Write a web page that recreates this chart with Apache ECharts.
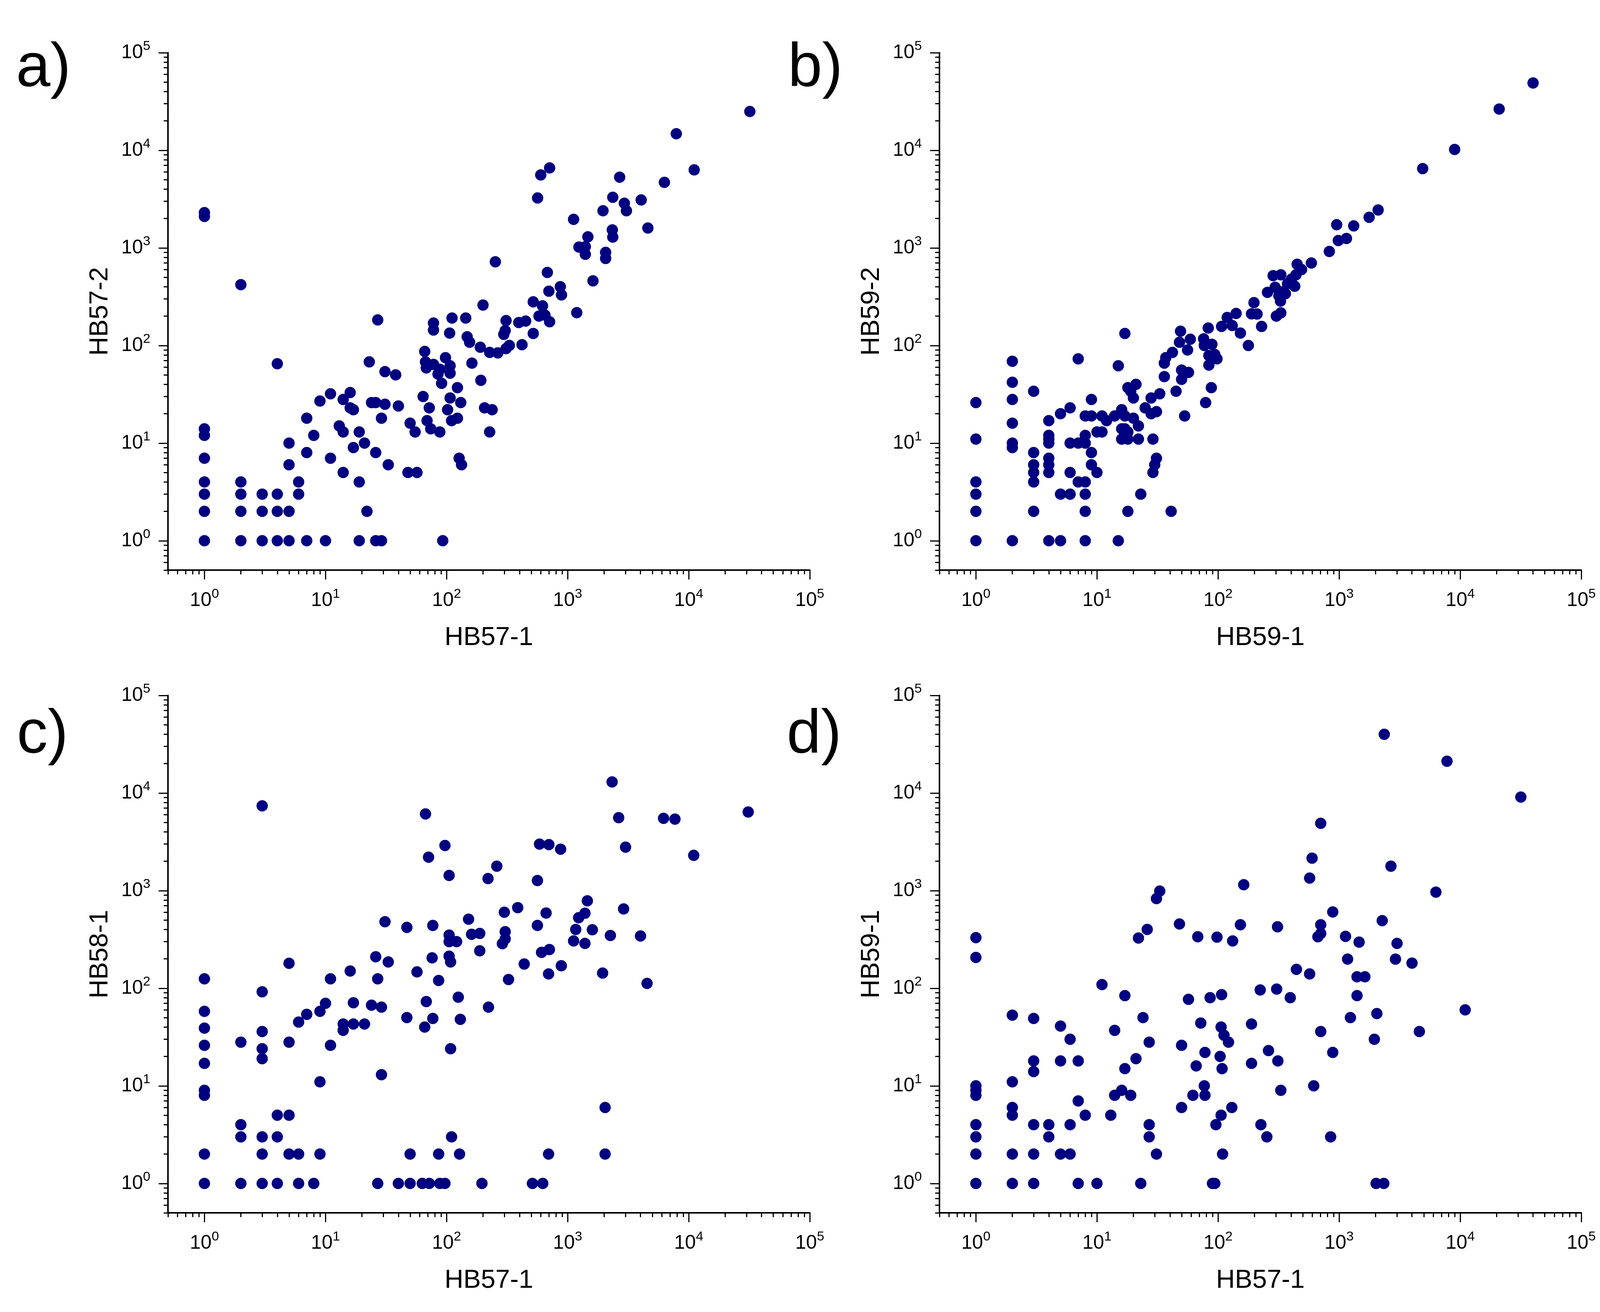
<!DOCTYPE html>
<html>
<head>
<meta charset="utf-8">
<script src="https://cdn.jsdelivr.net/npm/echarts@6/dist/echarts.min.js"></script>
<style>
  html, body { margin: 0; padding: 0; background: #fff; }
  #chart { width: 4131px; height: 3360px; }
</style>
</head>
<body>
<div id="chart"></div>
<script>
// axis decades (tick labels 10^0 .. 10^5)
const majorTicks = [1, 10, 100, 1000, 10000, 100000];

const panelLetters = ['a)', 'b)', 'c)', 'd)'];
const xNames = ['HB57-1', 'HB59-1', 'HB57-1', 'HB57-1'];
const yNames = ['HB57-2', 'HB59-2', 'HB58-1', 'HB59-1'];

// a) HB57-1 vs HB57-2
const panelA = [
  [1,2300],[1,2100],[1,14],[1,12],[1,7],[1,4],[1,3],[1,2],[1,1],
  [2,420],[2,4],[2,3],[2,2],[2,1],
  [3,3],[3,2],[3,1],
  [4,65],[4,3],[4,2],[4,1],
  [5,10],[5,6],[5,2],[5,1],
  [6,4],[6,3],
  [7,18],[7,8],[7,1],
  [8,12],[9,27],[10,1],[11,32],[11,7],[13,15],[14,28],[14,13],[14,5],[16,33],[16,23],
  [17,22],[17,9],[19,13],[19,4],[19,1],[21,10],[22,2],[23,68],[24,26],[26,26],[26,8],
  [26,1],[27,183],[29,18],[29,1],[31,54],[31,25],[33,6],[38,50],[40,24],[48,5],[50,16],
  [55,13],[57,5],[64,30],[66,87],[67,68],[68,59],[69,17],[72,23],[74,14],[78,170],[78,144],
  [78,64],[85,51],[88,57],[88,13],[91,41],[93,1],[98,75],[102,22],[106,134],[107,62],
  [107,52],[107,29],[110,17],[111,191],[123,37],[123,18],[127,7],[131,26],[133,6],[144,191],
  [148,123],[155,108],[162,66],[190,96],[192,44],[200,260],[206,23],[227,85],[227,13],
  [238,22],[253,720],[265,84],[297,130],[305,142],[310,180],[310,93],[330,100],[395,172],
  [420,102],[450,178],[520,280],[520,133],[565,3250],[580,200],[600,5600],[620,255],
  [650,205],[680,560],[700,360],[710,6600],[710,175],[870,400],[890,330],[1120,1960],
  [1190,217],[1240,1020],[1400,1030],[1400,860],[1470,1300],[1620,460],[1960,2400],
  [2060,900],[2060,780],[2340,1530],[2360,1290],[2360,3300],[2690,5300],[2940,2870],
  [3060,2400],[4050,3100],[4600,1600],[6300,4700],[7900,14800],[11100,6300],[32000,25000]
];

// b) HB59-1 vs HB59-2
const panelB = [
  [1,26],[1,11],[1,4],[1,3],[1,2],[1,1],
  [2,69],[2,42],[2,28],[2,16],[2,10],[2,9],[2,1],
  [3,34],[3,8],[3,6],[3,5],[3,4],[3,2],
  [4,17],[4,12],[4,11],[4,10],[4,7],[4,6],[4,5],[4,1],
  [5,20],[5,3],[5,1],
  [6,23],[6,10],[6,5],[6,3],
  [7,73],[7,10],[7,4],
  [8,19],[8,12],[8,10],[8,4],[8,3],[8,2],[8,1],
  [9,28],[9,19],[9,8],[9,6],
  [10,13],[10,5],[11,19],[11,13],[12,17],[14,19],[15,62],[15,1],
  [16,22],[16,14],[16,11],[17,133],[17,19],[17,14],[18,37],[18,13],[18,11],[18,2],[19,34],
  [20,29],[20,18],[21,40],[22,15],[22,11],[23,3],[25,23],[28,29],[28,20],[29,11],[29,5],
  [30,6],[31,21],[31,7],[33,32],[36,66],[36,48],[37,75],[41,2],[42,85],[45,34],[48,108],
  [49,140],[50,56],[50,45],[53,19],[56,90],[57,53],[59,116],[76,117],[77,100],[79,26],
  [83,151],[84,79],[84,63],[88,37],[89,103],[94,81],[98,73],[107,157],[119,194],[131,160],
  [141,213],[153,134],[178,100],[189,211],[198,275],[210,210],[229,157],[256,350],[285,520],
  [296,395],[303,200],[318,323],[328,285],[330,216],[330,530],[340,355],[360,340],[375,430],
  [405,480],[430,405],[440,530],[450,680],[490,600],[590,700],[830,920],[955,1730],
  [985,1190],[1150,1250],[1320,1680],[1770,2060],[2100,2450],[4900,6500],[9000,10200],
  [21000,26500],[40000,49000]
];

// c) HB57-1 vs HB58-1
const panelC = [
  [1,125],[1,58],[1,39],[1,26],[1,17],[1,9],[1,8],[1,2],[1,1],
  [2,28],[2,4],[2,3],[2,1],
  [3,7400],[3,92],[3,36],[3,24],[3,19],[3,3],[3,2],[3,1],
  [4,5],[4,3],[4,1],
  [5,180],[5,28],[5,5],[5,2],
  [6,45],[6,2],[6,1],
  [7,54],[8,1],[9,58],[9,11],[9,2],[10,70],[11,125],[11,26],[14,43],[14,37],[16,150],
  [17,71],[17,43],[21,43],[24,67],[26,210],[27,125],[27,1],[29,64],[29,13],[31,480],
  [33,186],[40,1],[47,420],[47,50],[50,2],[50,1],[57,147],[63,1],[66,40],[67,6100],[68,73],
  [71,2200],[72,1],[76,205],[77,440],[77,49],[86,120],[86,2],[88,1],[97,2900],[97,1],
  [105,1430],[105,350],[105,300],[105,213],[108,186],[108,24],[110,3],[121,300],[125,81],
  [128,2],[130,48],[152,510],[161,357],[188,364],[188,242],[196,1],[220,1330],[222,64],
  [260,1780],[289,286],[300,600],[305,380],[305,320],[325,123],[387,670],[438,177],[512,1],
  [563,1270],[563,440],[586,3000],[609,233],[623,1],[664,590],[696,140],[696,2],[700,2960],
  [707,249],[875,2660],[887,170],[1120,305],[1167,400],[1233,528],[1390,587],[1390,288],
  [1455,787],[1600,398],[1945,143],[2040,6],[2040,2],[2255,347],[2330,13000],[2640,5600],
  [2900,650],[3010,2790],[4000,343],[4530,112],[6200,5500],[7700,5400],[11000,2300],
  [31000,6400]
];

// d) HB57-1 vs HB59-1
const panelD = [
  [1,330],[1,207],[1,10],[1,9],[1,8],[1,4],[1,3],[1,2],[1,1],
  [2,53],[2,11],[2,6],[2,5],[2,2],[2,1],
  [3,49],[3,18],[3,14],[3,4],[3,2],[3,1],
  [4,4],[4,3],
  [5,41],[5,18],[5,2],
  [6,30],[6,4],[6,2],
  [7,18],[7,7],[7,1],
  [8,5],[10,1],[11,109],[13,5],[14,37],[14,8],[16,9],[17,84],[17,15],[19,8],[21,19],
  [22,327],[23,1],[24,50],[26,400],[27,28],[27,4],[27,3],[31,830],[31,2],[33,990],[48,456],
  [50,26],[50,6],[57,77],[62,8],[66,16],[68,337],[72,44],[77,10],[78,22],[78,8],[86,80],
  [90,1],[94,1],[96,4],[98,334],[104,20],[106,40],[106,5],[107,86],[108,15],[109,2],[112,33],
  [122,28],[130,6],[132,305],[153,447],[163,1150],[189,43],[189,17],[223,96],[226,4],[253,3],
  [261,23],[305,98],[310,426],[312,18],[330,9],[395,80],[444,156],[571,1345],[571,140],
  [598,2150],[617,10],[668,337],[705,4900],[705,447],[705,364],[705,36],[851,3],[886,605],
  [886,22],[1130,340],[1175,199],[1240,50],[1406,131],[1406,84],[1463,297],[1632,131],
  [1954,30],[2020,1],[2050,55],[2270,493],[2340,1],[2360,40000],[2680,1780],[2920,199],
  [3010,288],[4000,181],[4600,36],[6300,966],[7780,21200],[11000,60],[31700,9100]
];

const panels = [panelA, panelB, panelC, panelD];

// minor ticks 2..9 inside every decade, from the axis start (0.5)
const minorTicks = [];
[0.1].concat(majorTicks.slice(0, -1)).forEach(function (base) {
  for (let m = 2; m <= 9; m++) {
    const v = +(base * m).toPrecision(3);
    if (v >= 0.5) minorTicks.push(v);
  }
});

const FONT = '"Liberation Sans", Arial, sans-serif';
const AXIS_MIN = 0.5;
const AXIS_MAX = 100000;

const gridPos = [
  { left: 430, top: 135 },
  { left: 2405, top: 135 },
  { left: 430, top: 1781 },
  { left: 2405, top: 1781 }
];
const letterPos = [
  { x: 41, y: 176 },
  { x: 2017, y: 176 },
  { x: 43, y: 1883 },
  { x: 2014, y: 1883 }
];

const powLabel = {
  margin: 45,
  formatter: function (val) {
    const exp = Math.round(Math.log10(val));
    return '{b|10}{s|' + exp + '}';
  },
  rich: {
    b: { fontSize: 50, lineHeight: 66, fontFamily: FONT, color: '#000' },
    s: { fontSize: 34, lineHeight: 34, fontFamily: FONT, color: '#000', verticalAlign: 'top' }
  }
};

function mainAxis(i, pos, name) {
  return {
    gridIndex: i,
    type: 'log',
    logBase: 10,
    min: AXIS_MIN,
    max: AXIS_MAX,
    position: pos,
    name: name,
    nameLocation: 'middle',
    nameGap: 140,
    nameTextStyle: { fontSize: 67, fontFamily: FONT, color: '#000' },
    axisLine: { show: true, onZero: false, lineStyle: { color: '#000', width: 4 } },
    axisTick: { show: true, length: 24, customValues: majorTicks, lineStyle: { color: '#000', width: 3 } },
    axisLabel: Object.assign({ customValues: majorTicks }, powLabel),
    splitLine: { show: false },
    minorTick: { show: false }
  };
}

function minorAxis(i, pos) {
  return {
    gridIndex: i,
    type: 'log',
    logBase: 10,
    min: AXIS_MIN,
    max: AXIS_MAX,
    position: pos,
    axisLine: { show: false, onZero: false },
    axisTick: { show: true, length: 11, customValues: minorTicks, lineStyle: { color: '#000', width: 3 } },
    axisLabel: { show: false },
    splitLine: { show: false }
  };
}

const grid = [], xAxis = [], yAxis = [], series = [], graphic = [];
panels.forEach(function (pts, i) {
  grid.push({ left: gridPos[i].left, top: gridPos[i].top, width: 1643, height: 1325, containLabel: false });
  xAxis.push(mainAxis(i, 'bottom', xNames[i]), minorAxis(i, 'bottom'));
  yAxis.push(mainAxis(i, 'left', yNames[i]), minorAxis(i, 'left'));
  series.push({
    type: 'scatter',
    xAxisIndex: i * 2,
    yAxisIndex: i * 2,
    data: pts,
    symbol: 'circle',
    symbolSize: 29,
    itemStyle: { color: '#000080', opacity: 1 },
    emphasis: { disabled: true },
    animation: false
  });
  graphic.push({
    type: 'text',
    x: letterPos[i].x,
    y: letterPos[i].y,
    style: {
      text: panelLetters[i],
      font: '158px ' + FONT,
      fill: '#000',
      textAlign: 'left',
      textVerticalAlign: 'middle'
    }
  });
});

const chart = echarts.init(document.getElementById('chart'), null, { width: 4131, height: 3360, renderer: 'canvas' });
chart.setOption({
  backgroundColor: '#fff',
  animation: false,
  grid: grid,
  xAxis: xAxis,
  yAxis: yAxis,
  series: series,
  graphic: graphic
});
</script>
</body>
</html>
